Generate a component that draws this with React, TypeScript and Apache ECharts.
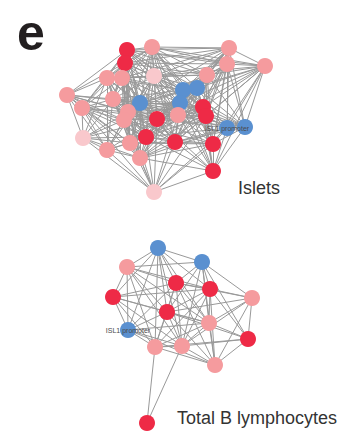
import React, { useEffect, useRef } from "react";
import * as echarts from "echarts";

// Colour classes
const COLORS: Record<string, string> = {
  r: "#EE2A46",
  s: "#F59B9E",
  p: "#F9C8CC",
  b: "#5A90D0",
};

// Islets network nodes: [x, y, colour class, label]
const isletNodes: [number, number, string, string][] = [
  [127, 50, "r", ""],
  [152, 47, "s", ""],
  [229, 48, "s", ""],
  [125, 63, "r", ""],
  [227, 64, "s", ""],
  [265, 66, "s", ""],
  [154, 76, "p", ""],
  [107, 78, "s", ""],
  [122, 78, "s", ""],
  [207, 75, "s", ""],
  [67, 95, "s", ""],
  [113, 99, "s", ""],
  [183, 90, "b", ""],
  [197, 88, "b", ""],
  [180, 103, "b", ""],
  [140, 103, "b", ""],
  [82, 108, "s", ""],
  [203, 107, "r", ""],
  [206, 116, "r", ""],
  [128, 112, "s", ""],
  [124, 120, "s", ""],
  [157, 119, "r", ""],
  [178, 115, "s", ""],
  [245, 127, "b", ""],
  [227, 128, "b", "ISL1 promoter"],
  [83, 138, "p", ""],
  [146, 137, "r", ""],
  [175, 142, "r", ""],
  [213, 144, "r", ""],
  [130, 143, "s", ""],
  [107, 150, "s", ""],
  [140, 158, "s", ""],
  [213, 171, "r", ""],
  [154, 192, "p", ""],
];

// Islets edges as adjacency lists (i < j)
const isletEdges = [
  "0:1,2,3,4,5,6,7,8,9,10,11,12,13,14,15,16,17,19,21,22,26,29",
  "1:2,3,4,5,6,7,8,9,11,12,13,14,15,17,18,19,21,22,26,27",
  "2:3,4,5,6,8,9,12,13,14,15,17,18,21,22,23,24,28",
  "3:4,6,7,8,9,10,11,12,14,15,16,19,20,21,22,26,29,31",
  "4:5,6,9,12,13,14,17,18,21,22,23,24,27,28",
  "5:6,9,12,13,14,17,18,22,23,24,27,28,32",
  "6:7,8,9,11,12,13,14,15,17,18,19,20,21,22,26,27,29",
  "7:8,10,11,12,15,16,19,20,21,25,26,29,30",
  "8:9,11,12,14,15,16,19,20,21,22,26,27,29,31",
  "9:12,13,14,15,17,18,21,22,23,26,27,28",
  "10:11,15,16,19,20,21,25,26,29,30",
  "11:12,14,15,16,19,20,21,22,25,26,27,29,30,31",
  "12:13,14,15,17,18,19,21,22,23,26,27,28,29,31,32",
  "13:14,15,17,18,21,22,23,24,27,28,32",
  "14:15,17,18,19,20,21,22,23,24,26,27,28,29,31,32",
  "15:16,17,18,19,20,21,22,26,27,29,30,31",
  "16:19,20,21,25,26,29,30,31,33",
  "17:18,19,21,22,23,24,26,27,28,29,31,32",
  "18:21,22,23,24,26,27,28,31,32,33",
  "19:20,21,22,25,26,27,29,30,31,33",
  "20:21,22,25,26,27,28,29,30,31,33",
  "21:22,23,24,25,26,27,28,29,30,31,32,33",
  "22:23,24,26,27,28,29,31,32,33",
  "23:24,28,32,27",
  "24:26,27,28,31,32,33",
  "25:26,29,30,31,33",
  "26:27,28,29,30,31,32,33",
  "27:28,29,31,32,33",
  "28:29,31,32,33",
  "29:30,31,33",
  "30:31,33",
  "31:32,33",
  "32:33",
];

// Total B lymphocytes network nodes
const bcellNodes: [number, number, string, string][] = [
  [158, 248, "b", ""],
  [202, 262, "b", ""],
  [127, 267, "s", ""],
  [176, 283, "r", ""],
  [210, 289, "r", ""],
  [113, 297, "r", ""],
  [252, 298, "s", ""],
  [167, 312, "r", ""],
  [209, 323, "s", ""],
  [128, 330, "b", "ISL1 promoter"],
  [248, 339, "r", ""],
  [155, 347, "s", ""],
  [182, 346, "s", ""],
  [215, 365, "s", ""],
  [147, 423, "r", ""],
];

const bcellEdges = [
  "0:1,2,3,4,5,7,8,9,11,12",
  "1:2,3,4,6,7,8,10,12,13",
  "2:3,4,5,7,8,9,11,12",
  "3:4,5,6,7,8,9,11,12,13",
  "4:5,6,7,8,10,11,12,13",
  "5:7,8,9,11,12",
  "6:7,8,10,12,13",
  "7:8,9,10,11,12,13",
  "8:9,10,11,12,13",
  "9:11,12,13",
  "10:11,12,13",
  "11:12,13,14",
  "12:13,14",
];

const panelLetter = "e";
const groupLabels = ["Islets", "Total B lymphocytes"];

function parseEdges(list: string[]) {
  const links: { source: number; target: number }[] = [];
  list.forEach((row) => {
    const [s, rest] = row.split(":");
    rest.split(",").forEach((t) => {
      links.push({ source: Number(s), target: Number(t) });
    });
  });
  return links;
}

function makeSeries(nodes: [number, number, string, string][], edges: string[]) {
  return {
    type: "graph",
    coordinateSystem: "cartesian2d",
    symbol: "circle",
    symbolSize: 16,
    data: nodes.map((n, i) => ({
      name: String(i),
      value: [n[0], n[1]],
      itemStyle: { color: COLORS[n[2]] },
      label: n[3]
        ? {
            show: true,
            formatter: n[3],
            position: "inside",
            fontSize: 7,
            color: "#4a4a4a",
            textBorderWidth: 0,
            textBorderColor: "transparent",
            fontFamily: "Liberation Sans, Arial, sans-serif",
          }
        : { show: false },
    })),
    links: parseEdges(edges),
    lineStyle: { color: "#999999", width: 1, opacity: 1, curveness: 0 },
    emphasis: { disabled: true },
    silent: true,
  };
}

export default function App() {
  const ref = useRef<HTMLDivElement>(null);
  useEffect(() => {
    if (!ref.current) return;
    const chart = echarts.init(ref.current, undefined, { renderer: "svg" });
    chart.setOption({
      animation: false,
      backgroundColor: "#ffffff",
      grid: { left: 0, right: 0, top: 0, bottom: 0 },
      xAxis: { type: "value", min: 0, max: 343, show: false },
      yAxis: { type: "value", min: 0, max: 432, inverse: true, show: false },
      graphic: [
        {
          type: "text",
          left: 17,
          top: 8,
          style: {
            text: panelLetter,
            font: "bold 50px 'Liberation Sans', Arial, sans-serif",
            fill: "#231f20",
          },
        },
        {
          type: "text",
          left: 238,
          top: 179,
          style: {
            text: groupLabels[0],
            font: "18px 'Liberation Sans', Arial, sans-serif",
            fill: "#333333",
          },
        },
        {
          type: "text",
          left: 177,
          top: 409,
          style: {
            text: groupLabels[1],
            font: "18px 'Liberation Sans', Arial, sans-serif",
            fill: "#333333",
          },
        },
      ],
      series: [makeSeries(isletNodes, isletEdges), makeSeries(bcellNodes, bcellEdges)],
    });
    return () => chart.dispose();
  }, []);
  return (
    <div
      ref={ref}
      style={{ position: "fixed", left: 0, top: 0, width: 343, height: 432 }}
    />
  );
}
